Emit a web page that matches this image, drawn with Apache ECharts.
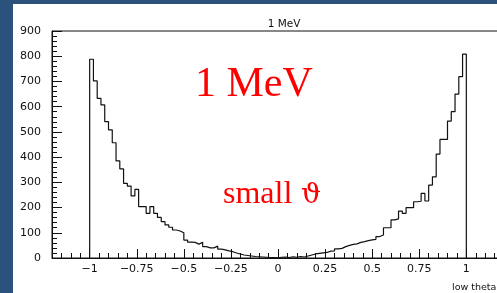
<!DOCTYPE html>
<html>
<head>
<meta charset="utf-8">
<script src="https://cdn.jsdelivr.net/npm/echarts@6/dist/echarts.min.js"></script>
<style>
  html, body { margin: 0; padding: 0; background: #2a527c; overflow: hidden; width: 497px; height: 293px; }
  #panel { position: absolute; left: 13px; top: 4px; width: 484px; height: 289px; background: #fff; }
  #chart { position: absolute; left: 0; top: 0; width: 520px; height: 293px; }
</style>
</head>
<body>
<div id="panel"></div>
<div id="chart"></div>
<script>
// histogram: 100 bins of width 0.02 from -1 to 1
const binStart = -1;
const binWidth = 0.02;
const counts = [
  788, 702, 633, 607, 541, 508, 457, 385, 353, 296,
  285, 246, 272, 204, 204, 177, 204, 177, 161, 144,
  131, 122, 111, 107, 100, 71, 63, 62, 55, 62,
  45, 40, 40, 47, 35, 32, 28, 25, 20, 16,
  12, 10, 8, 6, 5, 4, 3, 2, 2, 1,
  3, 4, 2, 5, 3, 6, 4, 8, 12, 16,
  18, 20, 22, 27, 28, 36, 38, 45, 50, 54,
  56, 62, 65, 69, 72, 74, 85, 91, 120, 120,
  151, 155, 186, 177, 200, 200, 223, 225, 256, 226,
  289, 322, 412, 470, 470, 543, 580, 650, 719, 808
];
const xMajorTicks = [-1, -0.75, -0.5, -0.25, 0, 0.25, 0.5, 0.75, 1];
const yTicks = [0, 100, 200, 300, 400, 500, 600, 700, 800, 900];

// outline points for a step line
const points = [[binStart, 0]];
counts.forEach((c, i) => {
  points.push([+(binStart + i * binWidth).toFixed(2), c]);
});
points.push([+(binStart + counts.length * binWidth).toFixed(2), 0]);

const labelFont = 'DejaVu Sans';
const fmt = v => (v < 0 ? '\u2212' + String(-v) : String(v));

const chart = echarts.init(document.getElementById('chart'), null, { renderer: 'canvas' });

const option = {
  animation: false,
  backgroundColor: 'transparent',
  title: {
    text: '1 MeV',
    left: 279,
    top: 14,
    textAlign: 'center',
    textStyle: { fontFamily: labelFont, fontSize: 10.5, fontWeight: 'normal', color: '#111' }
  },
  grid: {
    show: true,
    left: 52, top: 31, width: 452, height: 227,
    borderColor: '#111', borderWidth: 1,
    backgroundColor: 'transparent'
  },
  xAxis: [
    {
      type: 'value', min: -1.2, max: 1.2, interval: 0.05,
      axisLine: { show: true, onZero: false, lineStyle: { color: '#111', width: 1 } },
      axisTick: { show: true, inside: true, length: 5, lineStyle: { color: '#111' } },
      axisLabel: { show: false },
      splitLine: { show: false }
    },
    {
      type: 'value', min: -1.2, max: 1.2, position: 'bottom',
      axisLine: { show: false, onZero: false },
      axisTick: { show: true, inside: true, length: 9, customValues: xMajorTicks, lineStyle: { color: '#111' } },
      axisLabel: {
        show: true, customValues: xMajorTicks, margin: 6,
        fontFamily: labelFont, fontSize: 11, color: '#111',
        formatter: fmt
      },
      splitLine: { show: false }
    }
  ],
  yAxis: {
    type: 'value', min: 0, max: 900, interval: 100,
    axisLine: { show: true, onZero: false, lineStyle: { color: '#111', width: 1 } },
    axisTick: { show: true, inside: true, length: 10, lineStyle: { color: '#111' } },
    minorTick: { show: true, splitNumber: 5, length: 5, lineStyle: { color: '#111' } },
    axisLabel: {
      show: true, margin: 11, fontFamily: labelFont, fontSize: 11, color: '#111',
      formatter: v => (yTicks.includes(v) ? String(v) : '')
    },
    splitLine: { show: false }
  },
  graphic: [
    {
      type: 'text', left: 195, top: 64,
      style: { text: '1 MeV', fill: '#ff0000', font: '42px "Liberation Serif", "Times New Roman", serif' }
    },
    {
      type: 'text', left: 223, top: 179,
      style: { text: 'small', fill: '#ff0000', font: '32px "Liberation Serif", "Times New Roman", serif' }
    },
    {
      type: 'text', left: 301, top: 182,
      style: { text: '\u03d1', fill: '#ff0000', font: '28px "DejaVu Serif", serif' }
    },
    {
      type: 'text', left: 452, top: 283,
      style: { text: 'low theta', fill: '#111', font: '9.5px "DejaVu Sans", sans-serif' }
    }
  ],
  series: [
    {
      type: 'line',
      xAxisIndex: 0, yAxisIndex: 0,
      step: 'end',
      showSymbol: false,
      clip: true,
      lineStyle: { color: '#111', width: 1.2 },
      data: points
    }
  ]
};

chart.setOption(option);
</script>
</body>
</html>
